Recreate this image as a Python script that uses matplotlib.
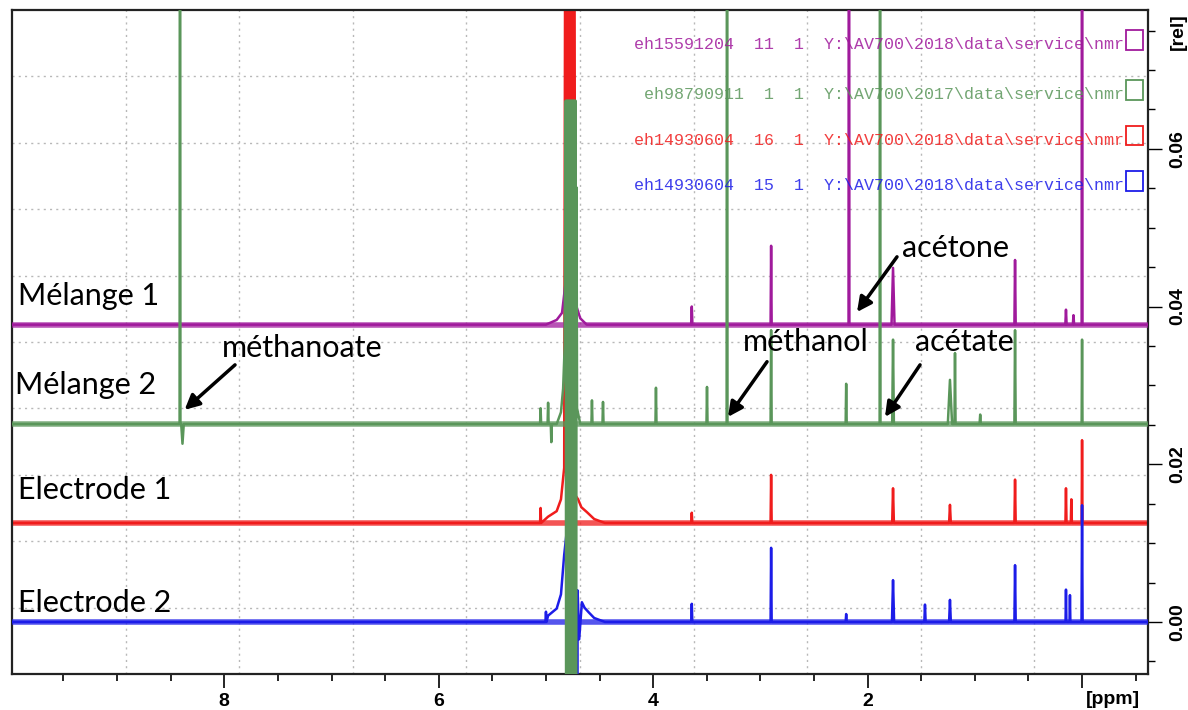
import numpy as np
import matplotlib
matplotlib.use("Agg")
import matplotlib.pyplot as plt
from matplotlib.ticker import FixedLocator, MultipleLocator

# axis ranges
ppm_range = (9.98, -0.615)
rel_range = (-0.0066, 0.0776)

names = ["Mélange 1", "Mélange 2", "Electrode 1", "Electrode 2"]
colors = ["#a01a9c", "#5a965a", "#f01c1c", "#1c1ce8"]
offsets = [0.0377, 0.0251, 0.01255, 0.0]
datasets = [
    "eh15591204  11  1  Y:\\AV700\\2018\\data\\service\\nmr",
    "eh98790911  1  1  Y:\\AV700\\2017\\data\\service\\nmr",
    "eh14930604  16  1  Y:\\AV700\\2018\\data\\service\\nmr",
    "eh14930604  15  1  Y:\\AV700\\2018\\data\\service\\nmr",
]

# peak lists : position (ppm), height above baseline (rel), half width (ppm)
m1_ppm = [3.64, 2.90, 2.174, 1.763, 0.625, 0.15, 0.08, 0.0]
m1_h = [0.0023, 0.0100, 0.12, 0.0072, 0.0082, 0.0019, 0.0012, 0.12]
m1_w = [0.006, 0.005, 0.004, 0.014, 0.006, 0.006, 0.006, 0.004]
m1_water_ppm = [5.00, 4.90, 4.85, 4.82, 4.80, 4.78, 4.76, 4.74, 4.72, 4.68, 4.62]
m1_water_val = [0.0, 0.0006, 0.0015, 0.0050, 0.0085, 0.0093, 0.0088, 0.0060, 0.0025, 0.0008, 0.0]

m2_ppm = [8.413, 8.39, 5.05, 4.98, 4.95, 4.571, 4.468, 3.974, 3.498, 3.311, 2.90, 2.20,
          1.884, 1.763, 1.232, 1.185, 0.95, 0.625, 0.0]
m2_h = [0.12, -0.0025, 0.0020, 0.0027, -0.0023, 0.0030, 0.0028, 0.0046, 0.0047, 0.12, 0.0119, 0.0051,
        0.12, 0.0107, 0.0056, 0.0090, 0.0012, 0.0119, 0.0107]
m2_w = [0.004, 0.012, 0.005, 0.005, 0.005, 0.005, 0.005, 0.005, 0.005, 0.004, 0.005, 0.005,
        0.004, 0.008, 0.02, 0.005, 0.006, 0.006, 0.004]
m2_water_ppm = [4.90, 4.86, 4.84, 4.825, 4.815, 4.81, 4.805, 4.80, 4.795, 4.79, 4.785, 4.78, 4.775,
                4.77, 4.765, 4.76, 4.755, 4.75, 4.745, 4.74, 4.735, 4.73, 4.725, 4.72, 4.715, 4.71, 4.68]
m2_water_val = [0.0, 0.0015, 0.0045, 0.0100, 0.041, -0.10, 0.041, -0.10, 0.041, -0.10, 0.041, -0.10, 0.041,
                -0.10, 0.041, -0.10, 0.041, -0.10, 0.041, -0.10, 0.041, -0.10, 0.041, -0.10, 0.030, 0.0020, 0.0]

e1_ppm = [5.05, 3.64, 2.90, 1.763, 1.232, 0.625, 0.15, 0.10, 0.0]
e1_h = [0.0019, 0.0013, 0.0061, 0.0044, 0.0023, 0.0055, 0.0044, 0.0030, 0.0105]
e1_w = [0.005, 0.005, 0.005, 0.008, 0.008, 0.006, 0.005, 0.005, 0.004]
e1_water_ppm = [5.15, 4.98, 4.90, 4.86, 4.83, 4.815, 4.81, 4.80, 4.79, 4.78, 4.77, 4.76, 4.75, 4.74,
                4.725, 4.70, 4.67, 4.62, 4.55, 4.45]
e1_water_val = [0.0, 0.0008, 0.0015, 0.0030, 0.0070, 0.12, -0.0018, 0.12, -0.0018, 0.12, -0.0018, 0.12,
                -0.0018, 0.12, 0.0035, 0.0030, 0.0020, 0.0014, 0.0005, 0.0]

e2_ppm = [5.00, 3.64, 2.90, 2.20, 1.763, 1.465, 1.232, 0.625, 0.15, 0.113, 0.0]
e2_h = [0.0013, 0.0023, 0.0094, 0.0010, 0.0053, 0.0022, 0.0028, 0.0072, 0.0041, 0.0034, 0.0148]
e2_w = [0.005, 0.005, 0.005, 0.005, 0.010, 0.006, 0.008, 0.006, 0.004, 0.004, 0.005]
e2_water_ppm = [5.15, 4.98, 4.90, 4.86, 4.83, 4.81, 4.79, 4.75, 4.715, 4.71, 4.705, 4.69, 4.665,
                4.64, 4.60, 4.55, 4.45]
e2_water_val = [0.0, 0.0008, 0.0017, 0.0035, 0.0085, 0.0110, 0.0060, 0.0040, 0.0040, -0.10, 0.0040,
                -0.0022, 0.0025, 0.0018, 0.0012, 0.0005, 0.0]

spectra = [
    (m1_ppm, m1_h, m1_w, m1_water_ppm, m1_water_val),
    (m2_ppm, m2_h, m2_w, m2_water_ppm, m2_water_val),
    (e1_ppm, e1_h, e1_w, e1_water_ppm, e1_water_val),
    (e2_ppm, e2_h, e2_w, e2_water_ppm, e2_water_val),
]


def build_trace(pk_ppm, pk_h, pk_w, sh_ppm, sh_val):
    """stick peaks + hand read water region -> one polyline"""
    pts = [(ppm_range[0], 0.0), (ppm_range[1], 0.0)]
    for p, h, w in zip(pk_ppm, pk_h, pk_w):
        pts += [(p + w, 0.0), (p, h), (p - w, 0.0)]
    pts += list(zip(sh_ppm, sh_val))
    pts.sort(key=lambda t: -t[0])
    x, y = np.array(pts).T
    return x, y


fig = plt.figure(figsize=(11.88, 7.10), dpi=100)
W, H = 1188, 710
ax = fig.add_axes([12 / W, 1 - 674 / H, 1136 / W, 664 / H])
ax.set_xlim(*ppm_range)
ax.set_ylim(*rel_range)

# grid splits the frame in 10x10 like topspin does
for gx in np.linspace(ppm_range[0], ppm_range[1], 11)[1:-1]:
    ax.axvline(gx, color="#b8b8b8", lw=1.0, ls=(0, (1.5, 3)), zorder=0)
for gy in np.linspace(rel_range[0], rel_range[1], 11)[1:-1]:
    ax.axhline(gy, color="#b8b8b8", lw=1.0, ls=(0, (1.5, 3)), zorder=0)

# draw order: red, blue, purple, green on top
order = [2, 3, 0, 1]
for i in order:
    x, y = build_trace(*spectra[i])
    off = offsets[i]
    ax.plot(ppm_range, [off, off], color=colors[i], lw=4.0, alpha=0.75,
            solid_capstyle="butt", zorder=2 + order.index(i))
    ax.plot(x, y + off, color=colors[i], lw=1.8, zorder=2 + order.index(i))

# frame and ticks
for sp in ax.spines.values():
    sp.set_linewidth(1.6)
    sp.set_color("#222222")
ax.xaxis.set_major_locator(FixedLocator([8, 6, 4, 2, 0]))
ax.set_xticklabels(["8", "6", "4", "2", ""])
ax.xaxis.set_minor_locator(MultipleLocator(0.5))
ax.yaxis.tick_right()
ax.yaxis.set_major_locator(FixedLocator([0.0, 0.02, 0.04, 0.06]))
ax.set_yticklabels(["0.00", "0.02", "0.04", "0.06"], rotation=90, va="center")
ax.yaxis.set_minor_locator(MultipleLocator(0.005))
ax.tick_params(axis="x", which="major", length=10, width=1.2, pad=4)
ax.tick_params(axis="x", which="minor", length=5, width=1.2)
ax.tick_params(axis="y", which="major", length=10, width=1.0, pad=5)
ax.tick_params(axis="y", which="minor", length=5, width=1.0)
for lab in ax.get_xticklabels() + ax.get_yticklabels():
    lab.set_fontweight("bold")
    lab.set_fontsize(14)
    lab.set_family("Liberation Sans")

fig.text(1113 / W, 1 - 700 / H, "[ppm]", ha="center", va="center",
         fontsize=14, fontweight="bold", family="Liberation Sans")
fig.text(1178 / W, 1 - 32 / H, "[rel]", ha="center", va="center", rotation=90,
         fontsize=14, fontweight="bold", family="Liberation Sans")

# legend block of the spectrometer
leg_y = [0.948, 0.873, 0.804, 0.736]
for i in range(4):
    ax.text(0.9785, leg_y[i], datasets[i], transform=ax.transAxes, ha="right", va="center",
            family="Liberation Mono", fontsize=12, color=colors[i], alpha=0.85, zorder=8)
    ax.add_patch(plt.Rectangle((0.9805, leg_y[i] - 0.008), 0.015, 0.03, transform=ax.transAxes,
                               fill=False, edgecolor=colors[i], lw=1.3, zorder=8))

# sample names
lab_font = dict(family="Lato", fontsize=22, color="black", va="center", ha="left", zorder=9)
name_pos = [(9.924, 0.0413), (9.952, 0.0300), (9.924, 0.0167), (9.924, 0.0024)]
for i in range(4):
    ax.text(name_pos[i][0], name_pos[i][1], names[i], **lab_font)

# compound labels with arrows
arrow = dict(arrowstyle="-|>", color="black", lw=2.5, mutation_scale=22, shrinkA=0, shrinkB=0)
ax.text(8.021, 0.0347, "méthanoate", **lab_font)
ax.annotate("", xy=(8.37, 0.0269), xytext=(7.90, 0.0326), arrowprops=arrow, zorder=9)
ax.text(1.679, 0.0474, "acétone", **lab_font)
ax.annotate("", xy=(2.099, 0.0393), xytext=(1.726, 0.0463), arrowprops=arrow, zorder=9)
ax.text(3.162, 0.0355, "méthanol", **lab_font)
ax.annotate("", xy=(3.302, 0.0260), xytext=(2.938, 0.0330), arrowprops=arrow, zorder=9)
ax.text(1.558, 0.0355, "acétate", **lab_font)
ax.annotate("", xy=(1.838, 0.0260), xytext=(1.511, 0.0326), arrowprops=arrow, zorder=9)

fig.savefig("out.png", dpi=100)
